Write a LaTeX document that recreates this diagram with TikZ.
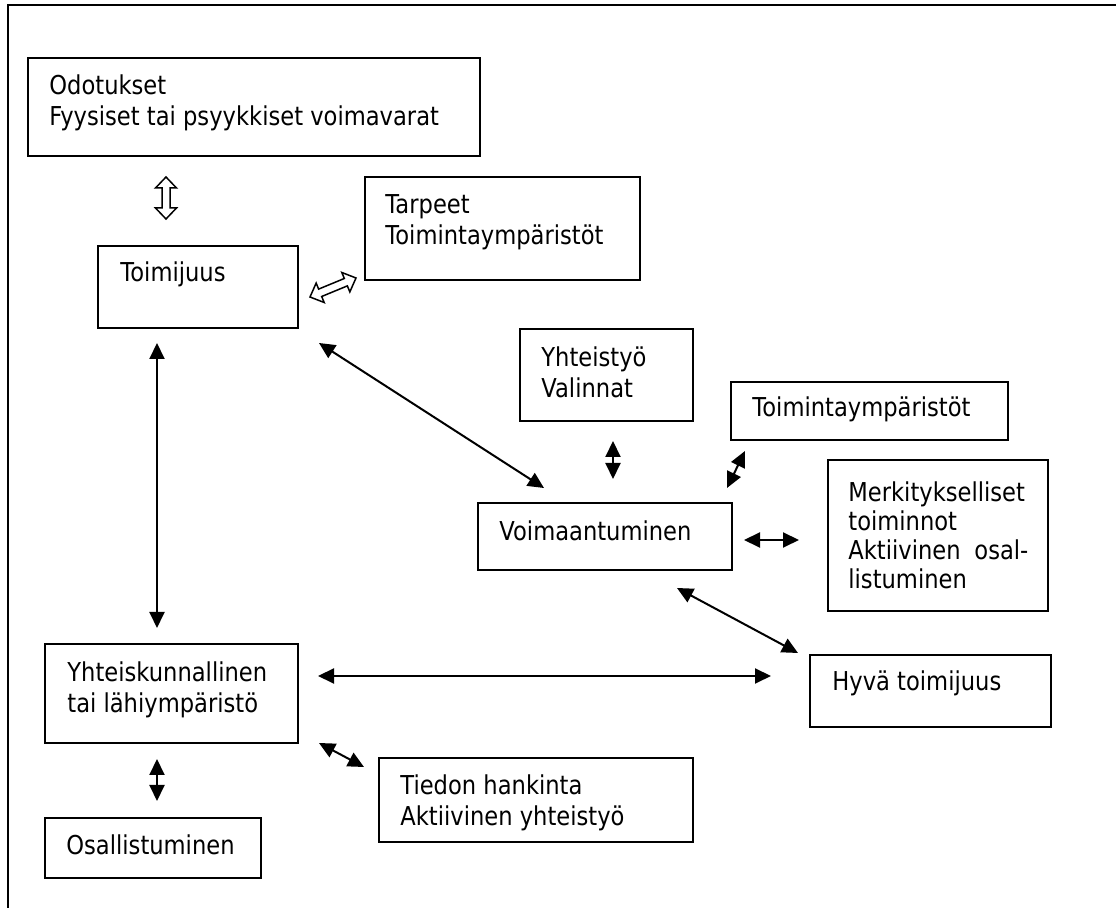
\documentclass[tikz,border=0pt]{standalone}
\usepackage{fontspec}
\setmainfont{DejaVu Sans}[FakeStretch=0.87]
\usetikzlibrary{arrows.meta,calc}

\tikzset{
  box/.style={draw,line width=1pt,rectangle,inner sep=0pt,outer sep=0pt,anchor=north west},
  txt/.style={anchor=base west,inner sep=0pt,font=\fontsize{13}{15.5}\selectfont},
  link/.style={line width=1pt,{Triangle[length=8pt,width=7.5pt]}-{Triangle[length=8pt,width=7.5pt]}},
  hollow/.style={line width=0.75pt,fill=white,line join=miter}
}
\newcommand{\rows}[1]{\begin{tabular}[t]{@{}l@{}}#1\end{tabular}}
\newcommand{\hollowarrow}[2]{%
  \draw[hollow] (#1)
    -- ($(#1)!5.5pt!(#2)!5.25pt!90:(#2)$)
    -- ($(#1)!5.5pt!(#2)!2pt!90:(#2)$)
    -- ($(#2)!5.5pt!(#1)!2pt!-90:(#1)$)
    -- ($(#2)!5.5pt!(#1)!5.25pt!-90:(#1)$)
    -- (#2)
    -- ($(#2)!5.5pt!(#1)!5.25pt!90:(#1)$)
    -- ($(#2)!5.5pt!(#1)!2pt!90:(#1)$)
    -- ($(#1)!5.5pt!(#2)!2pt!-90:(#2)$)
    -- ($(#1)!5.5pt!(#2)!5.25pt!-90:(#2)$)
    -- cycle;}

\begin{document}
\begin{tikzpicture}[x=0.5pt,y=-0.5pt]
\useasboundingbox (0,0) rectangle (1116,908);

% -- outer frame
\draw[line width=1pt] (8,908) -- (8,5) -- (1116,5);

% -- boxes
\node[box,minimum width=226pt,minimum height=49pt] (odot) at (28,58) {};
\node[box,minimum width=100pt,minimum height=41pt] (toim) at (98,246) {};
\node[box,minimum width=137.5pt,minimum height=51.5pt] (tarp) at (365,177) {};
\node[box,minimum width=86.5pt,minimum height=46pt] (yht) at (520,329) {};
\node[box,minimum width=138.5pt,minimum height=29pt] (tymp) at (731,382) {};
\node[box,minimum width=127pt,minimum height=33.5pt] (voim) at (478,503) {};
\node[box,minimum width=110pt,minimum height=75.5pt] (merk) at (828,460) {};
\node[box,minimum width=120.5pt,minimum height=36pt] (hyva) at (810,655) {};
\node[box,minimum width=126.5pt,minimum height=49.5pt] (yhk) at (45,644) {};
\node[box,minimum width=157pt,minimum height=42pt] (tied) at (379,758) {};
\node[box,minimum width=108pt,minimum height=30pt] (osal) at (45,818) {};

% -- texts
\node[txt] (odot-t) at ([shift={(21,37)}]odot.north west) {\rows{Odotukset\\Fyysiset tai psyykkiset voimavarat}};
\node[txt] (toim-t) at ([shift={(22,36)}]toim.north west) {Toimijuus};
\node[txt] (tarp-t) at ([shift={(20,37)}]tarp.north west) {\rows{Tarpeet\\Toimintaympäristöt}};
\node[txt] (yht-t) at ([shift={(21,38)}]yht.north west) {\rows{Yhteistyö\\Valinnat}};
\node[txt] (tymp-t) at ([shift={(21,35)}]tymp.north west) {Toimintaympäristöt};
\node[txt] (voim-t) at ([shift={(21,38)}]voim.north west) {Voimaantuminen};
\node[txt,font=\fontsize{13}{14.5}\selectfont] (merk-t) at ([shift={(20,42)}]merk.north west)
  {\rows{Merkitykselliset\\toiminnot\\\makebox[90pt][s]{Aktiivinen osal-}\\listuminen}};
\node[txt] (hyva-t) at ([shift={(22,36)}]hyva.north west) {Hyvä toimijuus};
\node[txt] (yhk-t) at ([shift={(22,38)}]yhk.north west) {\rows{Yhteiskunnallinen\\tai lähiympäristö}};
\node[txt] (tied-t) at ([shift={(21,37)}]tied.north west) {\rows{Tiedon hankinta\\Aktiivinen yhteistyö}};
\node[txt] (osal-t) at ([shift={(21,37)}]osal.north west) {Osallistuminen};

% -- hollow arrows
\coordinate (h1a) at ([shift={(138,21)}]odot.south west);
\coordinate (h1b) at ([shift={(68,-27)}]toim.north west);
\hollowarrow{h1a}{h1b}
\coordinate (h2a) at ([shift={(12,10)}]toim.east);
\coordinate (h2b) at ([shift={(-9,-2)}]tarp.south west);
\hollowarrow{h2a}{h2b}

% -- draw arrows
\draw[link] ([shift={(-41,15)}]toim.south) -- ([shift={(-14.5,-16)}]yhk.north);
\draw[link] ([shift={(21,15)}]toim.south east) -- ([shift={(66,-15)}]voim.north west);
\draw[link] ([shift={(6.5,20)}]yht.south) -- ([shift={(8,-24)}]voim.north);
\draw[link] ([shift={(14,11)}]tymp.south west) -- ([shift={(-5,-15)}]voim.north east);
\draw[link] ([shift={(12,3.5)}]voim.east) -- ([shift={(-29,4.5)}]merk.west);
\draw[link] ([shift={(72,18)}]voim.south) -- ([shift={(-12,-2)}]hyva.north west);
\draw[link] ([shift={(20,-17.5)}]yhk.east) -- ([shift={(-39,-15)}]hyva.west);
\draw[link] ([shift={(21,0)}]yhk.south east) -- ([shift={(-15,9)}]tied.north west);
\draw[link] ([shift={(-14.5,16)}]yhk.south) -- ([shift={(4,-17)}]osal.north);
\end{tikzpicture}
\end{document}
